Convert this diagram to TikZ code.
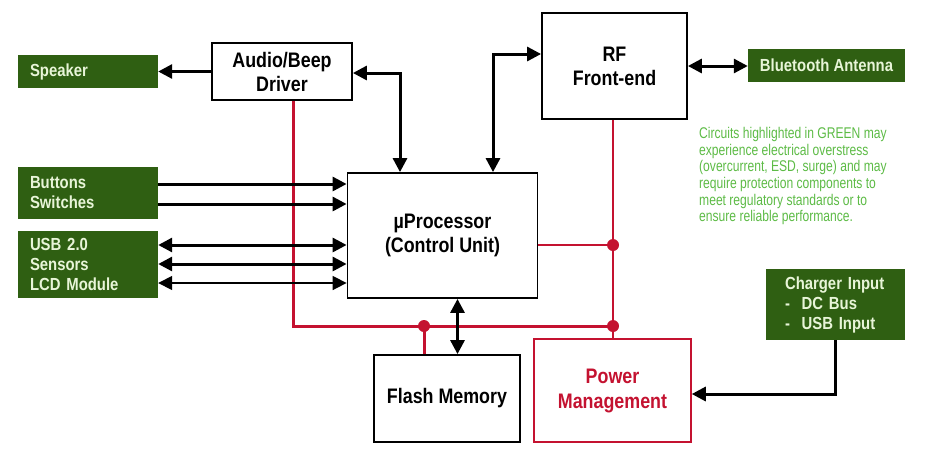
\documentclass[tikz,border=0pt]{standalone}
\usepackage{fontspec}
\setmainfont{Liberation Sans}[FakeStretch=0.85]
\newfontfamily\notefont{Liberation Sans}[FakeStretch=0.78]
\usetikzlibrary{arrows.meta}
\definecolor{dkgreen}{HTML}{2F5F12}
\definecolor{pale}{HTML}{E8F5D8}
\definecolor{wred}{HTML}{C41230}
\definecolor{notegreen}{HTML}{5DBB46}
\tikzset{
  blkbox/.style={draw=black, line width=1.8pt, fill=white, align=center, inner sep=0pt,
    font=\bfseries\fontsize{21}{24}\selectfont},
  grnbox/.style={fill=dkgreen, text=pale, align=left, inner xsep=12pt, inner ysep=0pt,
    font=\bfseries\fontsize{17.5}{20}\selectfont},
  redbox/.style={draw=wred, line width=1.5pt, fill=white, text=wred, align=center, inner sep=0pt,
    font=\bfseries\fontsize{21}{25}\selectfont},
  tip/.tip={Triangle[length=14pt,width=14pt]},
  arr/.style={line width=3pt, -tip},
  biarr/.style={line width=3pt, tip-tip},
  thinbiarr/.style={line width=1.6pt, tip-tip},
  redthick/.style={draw=wred, line width=3pt},
  redthin/.style={draw=wred, line width=1.8pt},
  dot/.style={fill=wred},
  note/.style={text=notegreen, align=left, inner sep=0pt, anchor=north west,
    font=\notefont\fontsize{15.5}{16.7}\selectfont}
}
\begin{document}
\begin{tikzpicture}[x=1pt,y=-1pt]
\useasboundingbox (0,0) rectangle (934,459);
% green boxes
\node[grnbox, minimum width=140, minimum height=33, text width=116] (spk) at (88,71.5) {Speaker};
\node[grnbox, minimum width=157, minimum height=33, align=center] (bt) at (826.5,65.5) {Bluetooth Antenna};
\node[grnbox, minimum width=140, minimum height=52, text width=116] (btn) at (88,193) {Buttons\\Switches};
\node[grnbox, minimum width=140, minimum height=67, text width=116] (usb) at (88,264.5) {USB 2.0\\Sensors\\LCD Module};
\node[grnbox, minimum width=139, minimum height=71, text width=101, inner xsep=19pt] (chg) at (835.5,304.5) {Charger Input\\-\ \ DC Bus\\-\ \ USB Input};
% black boxes
\node[blkbox, minimum width=140, minimum height=57] (audio) at (282,71.5) {Audio/Beep\\Driver};
\node[blkbox, minimum width=145, minimum height=106] (rf) at (614.5,66) {RF\\Front-end};
\node[blkbox, minimum width=190, minimum height=125] (proc) at (442.5,235.5) {µProcessor\\(Control Unit)};
\node[blkbox, minimum width=146, minimum height=87] (flash) at (447,398.5) {Flash Memory};
\node[redbox, minimum width=157, minimum height=103] (pwr) at (612.5,390.5) {Power\\Management};
% note
\node[note] (txt) at (699,127) {Circuits highlighted in GREEN may\\experience electrical overstress\\(overcurrent, ESD, surge) and may\\require protection components to\\meet regulatory standards or to\\ensure reliable performance.};
% red power wiring
\coordinate (j1) at (424,326);
\coordinate (j2) at (613,326);
\coordinate (j3) at (613,245);
\draw[redthick] ([xshift=11pt]audio.south) |- (j2);
\draw[redthick] (j1) -- (j1 |- flash.north);
\draw[redthin] (j3 |- rf.south) -- (j2 |- pwr.north);
\draw[redthin] (proc.east |- j3) -- (j3);
\fill[dot] (j1) circle (6pt);
\fill[dot] (j2) circle (6pt);
\fill[dot] (j3) circle (6pt);
% black connectors
\draw[arr] (audio.west) -- (spk.east);
\draw[biarr] ([xshift=-42.5pt]proc.north) |- ([yshift=-1.5pt]audio.east);
\draw[biarr] ([xshift=50.5pt]proc.north) |- ([yshift=12pt]rf.west);
\draw[biarr] (rf.east) -- (rf.east -| bt.west);
\draw[arr] ([yshift=9pt]btn.east) -- ([yshift=9pt]btn.east -| proc.west);
\draw[arr] ([yshift=-11pt]btn.east) -- ([yshift=-11pt]btn.east -| proc.west);
\draw[biarr] ([yshift=19.5pt]usb.east) -- ([yshift=19.5pt]usb.east -| proc.west);
\draw[biarr] ([yshift=0.5pt]usb.east) -- ([yshift=0.5pt]usb.east -| proc.west);
\draw[thinbiarr] ([yshift=-18.5pt]usb.east) -- ([yshift=-18.5pt]usb.east -| proc.west);
\draw[biarr] ([xshift=15pt]proc.south) -- ([xshift=15pt]proc.south |- flash.north);
\draw[arr] (chg.south) |- ([yshift=-3.5pt]pwr.east);
\end{tikzpicture}
\end{document}
